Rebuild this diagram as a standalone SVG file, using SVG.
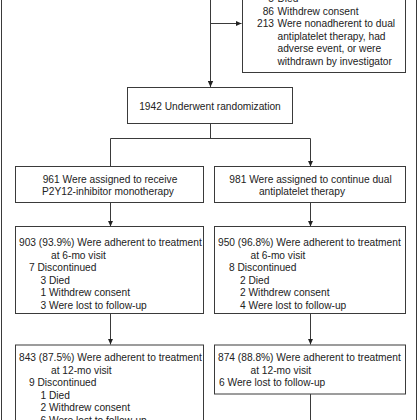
<svg xmlns="http://www.w3.org/2000/svg" width="420" height="420" viewBox="0 0 420 420">
<style>
.box{fill:#fff;stroke:#3a3a3a;stroke-width:1}
.ln{fill:none;stroke:#3a3a3a;stroke-width:1}
text{font-family:"Liberation Sans","Noto Sans",sans-serif;font-size:10.2px;fill:#222}
.c{text-anchor:middle}
.e{text-anchor:end}
</style>
<defs>
<marker id="ah" viewBox="0 0 6 6" refX="6" refY="3" markerWidth="6" markerHeight="6" markerUnits="userSpaceOnUse" orient="auto">
<path d="M0,0.3 L6,3 L0,5.7 Z" fill="#222"/>
</marker>
</defs>
<rect width="420" height="420" fill="#fff"/>
<g id="frame">
<line class="ln" x1="1.5" y1="0" x2="1.5" y2="420"/>
<line class="ln" x1="416.5" y1="0" x2="416.5" y2="420"/>
</g>
<g id="connectors">
<line class="ln" x1="210.5" y1="0" x2="210.5" y2="87" marker-end="url(#ah)"/>
<line class="ln" x1="210.5" y1="23.5" x2="241.5" y2="23.5" marker-end="url(#ah)"/>
<polyline class="ln" points="210.5,123.5 210.5,138.5"/>
<polyline class="ln" points="110.5,166.5 110.5,138.5 310.5,138.5 310.5,166.5" marker-start="url(#ah)" marker-end="url(#ah)"/>
<line class="ln" x1="110.5" y1="203" x2="110.5" y2="226.5" marker-end="url(#ah)"/>
<line class="ln" x1="310.5" y1="203" x2="310.5" y2="226.5" marker-end="url(#ah)"/>
<line class="ln" x1="110.5" y1="313.5" x2="110.5" y2="344.5" marker-end="url(#ah)"/>
<line class="ln" x1="310.5" y1="313.5" x2="310.5" y2="344.5" marker-end="url(#ah)"/>
<line class="ln" x1="310.5" y1="394" x2="310.5" y2="420"/>
</g>
<g id="excluded">
<rect class="box" x="242.5" y="-20" width="163" height="92.5"/>
<text class="e" x="274" y="2">5</text><text x="277.5" y="2">Died</text>
<text class="e" x="274" y="14.5">86</text><text x="277.5" y="14.5">Withdrew consent</text>
<text class="e" x="274" y="27.2">213</text><text x="277.5" y="27.2">Were nonadherent to dual</text>
<text x="277.5" y="39.8">antiplatelet therapy, had</text>
<text x="277.5" y="52.4">adverse event, or were</text>
<text x="277.5" y="65">withdrawn by investigator</text>
</g>
<g id="randomization">
<rect class="box" x="127.5" y="87.5" width="165" height="36"/>
<text class="c" x="210" y="109.5">1942 Underwent randomization</text>
</g>
<g id="mono-assigned">
<rect class="box" x="15.5" y="166.5" width="188" height="36"/>
<text class="c" x="110" y="182.5">961 Were assigned to receive</text>
<text class="c" x="108" y="195">P2Y12-inhibitor monotherapy</text>
</g>
<g id="dapt-assigned">
<rect class="box" x="214.5" y="166.5" width="191" height="36"/>
<text class="c" x="310.5" y="182.5">981 Were assigned to continue dual</text>
<text class="c" x="302" y="195">antiplatelet therapy</text>
</g>
<g id="mono-6mo">
<rect class="box" x="15.5" y="226.5" width="188" height="87"/>
<text x="19" y="246">903 (93.9%) Were adherent to treatment</text>
<text x="51" y="258.5">at 6-mo visit</text>
<text x="29" y="271">7 Discontinued</text>
<text x="40.5" y="283.5">3 Died</text>
<text x="40.5" y="296">1 Withdrew consent</text>
<text x="40.5" y="308.5">3 Were lost to follow-up</text>
</g>
<g id="dapt-6mo">
<rect class="box" x="214.5" y="226.5" width="191" height="87"/>
<text x="218" y="246">950 (96.8%) Were adherent to treatment</text>
<text x="250.5" y="258.5">at 6-mo visit</text>
<text x="229" y="271">8 Discontinued</text>
<text x="240" y="283.5">2 Died</text>
<text x="240" y="296">2 Withdrew consent</text>
<text x="240" y="308.5">4 Were lost to follow-up</text>
</g>
<g id="mono-12mo">
<rect class="box" x="15.5" y="345" width="188" height="100"/>
<text x="19" y="361">843 (87.5%) Were adherent to treatment</text>
<text x="51" y="373.5">at 12-mo visit</text>
<text x="29" y="386">9 Discontinued</text>
<text x="40.5" y="398.5">1 Died</text>
<text x="40.5" y="411">2 Withdrew consent</text>
<text x="40.5" y="423.5">6 Were lost to follow-up</text>
</g>
<g id="dapt-12mo">
<rect class="box" x="214.5" y="345" width="191" height="49"/>
<text x="218" y="361">874 (88.8%) Were adherent to treatment</text>
<text x="250.5" y="373.5">at 12-mo visit</text>
<text x="219" y="386">6 Were lost to follow-up</text>
</g>
</svg>
